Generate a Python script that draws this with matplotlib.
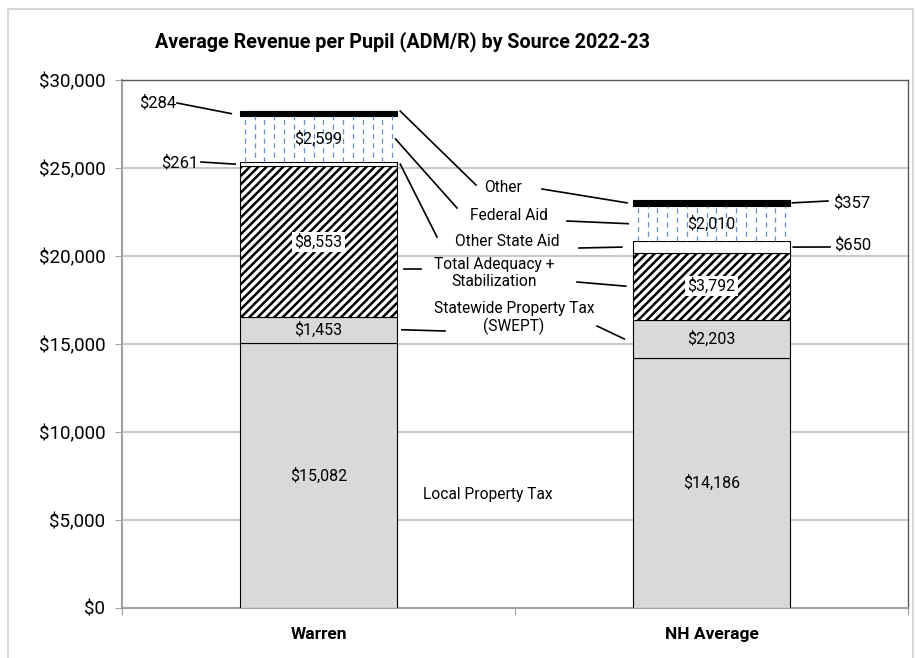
import numpy as np
import matplotlib
matplotlib.use("Agg")
import matplotlib.pyplot as plt
from matplotlib.patches import Rectangle

plt.rcParams['font.family'] = ['Roboto', 'DejaVu Sans']
plt.rcParams['hatch.linewidth'] = 1.8

# ---- data ----
categories = ["Warren", "NH Average"]
sources = ["Local Property Tax", "Statewide Property Tax\n(SWEPT)",
           "Total Adequacy +\nStabilization", "Other State Aid", "Federal Aid", "Other"]
local_tax = [15082, 14186]
swept = [1453, 2203]
adequacy = [8553, 3792]
other_state = [261, 650]
federal = [2599, 2010]
other = [284, 357]
y_ticks = [0, 5000, 10000, 15000, 20000, 25000, 30000]
title = "Average Revenue per Pupil (ADM/R) by Source 2022-23"

series = [local_tax, swept, adequacy, other_state, federal, other]

W, H = 916, 658
fig = plt.figure(figsize=(W / 100, H / 100), dpi=100)
ax = fig.add_axes([122 / W, 1 - 608 / H, (908 - 122) / W, (608 - 80) / H])

# outer frame
fig.patches.append(Rectangle((8 / W, -0.01), (913 - 8) / W, 1 - 9 / H + 0.01,
                             transform=fig.transFigure, fill=False,
                             ec='#d0d0d0', lw=1.2))

x = np.arange(len(categories))
width = 0.4
styles = [
    dict(color='#d9d9d9', edgecolor='black', linewidth=0.8),
    dict(color='#d9d9d9', edgecolor='black', linewidth=0.8),
    dict(color='white', edgecolor='black', linewidth=0.8, hatch='////'),
    dict(color='white', edgecolor='black', linewidth=0.8),
    dict(color='white', edgecolor='none', linewidth=0),
    dict(color='black', edgecolor='black', linewidth=0.8),
]

bottoms = np.zeros(len(categories))
bars_all = []
for vals, st in zip(series, styles):
    vals = np.array(vals, dtype=float)
    bars = ax.bar(x, vals, width, bottom=bottoms, zorder=3, **st)
    bars_all.append((bars, bottoms.copy(), vals))
    bottoms = bottoms + vals

# dashed vertical pattern for federal aid
fed_bars, fed_bot, fed_vals = bars_all[4]
for b, y0, v in zip(fed_bars, fed_bot, fed_vals):
    x0 = b.get_x()
    step = width / 16
    xs = np.arange(x0 + step / 2, x0 + width, step)
    ax.vlines(xs[::2], y0, y0 + v, colors='#6a8ec6', lw=0.9,
              linestyles=(0, (4, 3.5)), zorder=4)
    ax.vlines(xs[1::2], y0, y0 + v, colors='#6a8ec6', lw=0.9,
              linestyles=(3.7, (4, 3.5)), zorder=4)

# value labels inside
for idx in [0, 1, 2, 4]:
    bars, bots, vals = bars_all[idx]
    for xi, y0, v in zip(x, bots, vals):
        kw = {}
        if idx == 2:
            kw['bbox'] = dict(fc='white', ec='none', pad=1.5)
        ax.text(xi, y0 + v / 2, f"${v:,.0f}", ha='center', va='center',
                fontsize=11.5, zorder=6, **kw)

ax.set_xlim(-0.5, 1.5)
ax.set_ylim(0, 30000)


def p2d(px, py):
    """figure pixel -> data coordinates (layout helper for annotations)"""
    xd = -0.5 + (px - 122) / (908 - 122) * 2.0
    yd = (608 - py) / (608 - 80) * 30000
    return xd, yd


def seg_mid(series_idx, cat):
    _, bots, vals = bars_all[series_idx]
    return bots[cat] + vals[cat] / 2


line_kw = dict(color='black', lw=1.2, zorder=5)


def line(p_from, p_to):
    ax.plot([p_from[0], p_to[0]], [p_from[1], p_to[1]], clip_on=False, **line_kw)


right_w = x[0] + width / 2
left_nh = x[1] - width / 2
gap = 0.008

# middle category labels
mid_labels = [
    (sources[5], (503, 188)),
    (sources[4], (509, 215)),
    (sources[3], (507, 242)),
    (sources[2], (494, 273)),
    (sources[1], (514, 318)),
    (sources[0], (488, 494)),
]
for lab, (px, py) in mid_labels:
    xd, yd = p2d(px, py)
    ax.text(xd, yd, lab, ha='center', va='center', fontsize=11.2,
            linespacing=1.15, zorder=6)

# Warren side leader lines
line((right_w + gap, bottoms[0]), p2d(476, 185))
line((right_w - 0.004, seg_mid(4, 0)), p2d(457, 208))
line((right_w + gap, seg_mid(3, 0)), p2d(437, 237))
line(p2d(404, 269), p2d(421, 269))
line((right_w + 0.012, seg_mid(1, 0)), p2d(445, 331))
# NH side leader lines
line(p2d(542, 189), (left_nh - 0.015, seg_mid(5, 1)))
line(p2d(567, 221), (left_nh - 0.012, seg_mid(4, 1)))
line(p2d(579, 248), (left_nh - 0.028, seg_mid(3, 1)))
line(p2d(577, 282), (left_nh - 0.018, seg_mid(2, 1)))
line(p2d(597, 326), (left_nh - 0.022, seg_mid(1, 1)))

# small outside value labels
left_w = x[0] - width / 2
right_nh = x[1] + width / 2
fs_small = 12
ax.text(*p2d(158, 103), f"${other[0]:,}", ha='center', va='center', fontsize=fs_small)
line(p2d(177, 103), (left_w - 0.022, seg_mid(5, 0)))
ax.text(*p2d(180, 163), f"${other_state[0]:,}", ha='center', va='center', fontsize=fs_small)
line(p2d(201, 162), (left_w - 0.012, seg_mid(3, 0)))
ax.text(*p2d(852, 203), f"${other[1]:,}", ha='center', va='center', fontsize=fs_small)
line((right_nh + 0.006, seg_mid(5, 1)), p2d(828, 201))
ax.text(*p2d(853, 245), f"${other_state[1]:,}", ha='center', va='center', fontsize=fs_small)
line((right_nh + 0.008, seg_mid(3, 1)), p2d(830, 247))

# axes styling
ax.set_yticks(y_ticks)
ax.set_yticklabels([f"${v:,}" for v in y_ticks], fontsize=13.5)
ax.yaxis.grid(True, color='#bfbfbf', lw=1.2, zorder=0)
ax.set_axisbelow(True)
ax.set_xticks([-0.5, 0.5, 1.5])
ax.set_xticklabels([])
ax.set_xticks(x, minor=True)
ax.set_xticklabels(categories, minor=True, fontsize=12.5, fontweight='bold')
ax.tick_params(axis='x', which='minor', length=0, pad=14)
ax.tick_params(axis='x', which='major', length=5, color='#a0a0a0', direction='out')
ax.tick_params(axis='y', length=5, color='#a0a0a0', pad=7)
for s in ['top', 'right']:
    ax.spines[s].set_color('#595959')
    ax.spines[s].set_linewidth(1.0)
for s in ['left', 'bottom']:
    ax.spines[s].set_color('#a0a0a0')
    ax.spines[s].set_linewidth(1.5)

fig.text(155 / W, 1 - 42 / H, title, ha='left', va='center',
         fontsize=14.2, fontweight='bold')

fig.savefig("out.png", dpi=100)
